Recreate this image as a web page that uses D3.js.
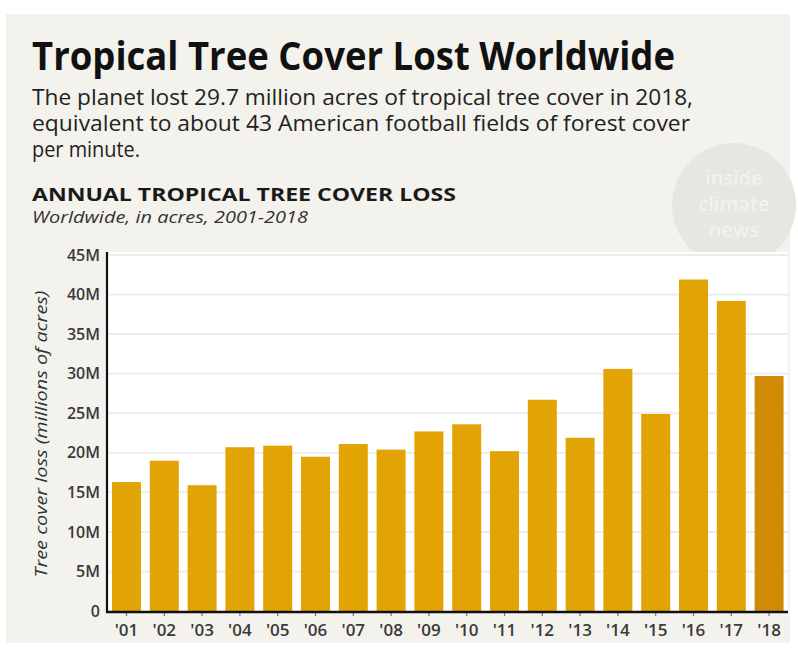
<!DOCTYPE html>
<html>
<head>
<meta charset="utf-8">
<script src="https://cdn.jsdelivr.net/npm/d3@7"></script>
<style>
  html, body { margin: 0; padding: 0; background: #ffffff; }
  svg { display: block; }
</style>
</head>
<body>
<svg id="chart" width="798" height="650"></svg>
<script>
const years = ["'01","'02","'03","'04","'05","'06","'07","'08","'09","'10","'11","'12","'13","'14","'15","'16","'17","'18"];
const lossMillionAcres = [16.3, 19.0, 15.9, 20.7, 20.9, 19.5, 21.1, 20.4, 22.7, 23.6, 20.2, 26.7, 21.9, 30.6, 24.9, 41.9, 39.2, 29.7];
const yTicks = [0, 5, 10, 15, 20, 25, 30, 35, 40, 45];
const yTickLabels = ["0", "5M", "10M", "15M", "20M", "25M", "30M", "35M", "40M", "45M"];

const svg = d3.select("#chart");
const FONT = "'Open Sans', 'Noto Sans', sans-serif";

// panel background
svg.append("rect").attr("x", 6).attr("y", 14).attr("width", 784).attr("height", 629).attr("fill", "#f4f2ec");

// watermark
const wm = svg.append("g");
wm.append("circle").attr("cx", 734).attr("cy", 205).attr("r", 62).attr("fill", "#e8e6e0");
[["inside", 185], ["climate", 211], ["news", 237]].forEach(([t, y]) => {
  wm.append("text").attr("x", 734).attr("y", y).attr("text-anchor", "middle")
    .attr("font-family", FONT).attr("font-size", 20).attr("font-weight", 600)
    .attr("fill", "#f2f1ed").text(t);
});

// titles
svg.append("text").attr("x", 32).attr("y", 70)
  .attr("font-family", FONT).attr("font-weight", 700).attr("font-size", 39)
  .attr("fill", "#111").attr("textLength", 643).attr("lengthAdjust", "spacingAndGlyphs")
  .text("Tropical Tree Cover Lost Worldwide");

const sub = [
  ["The planet lost 29.7 million acres of tropical tree cover in 2018,", 105, 661],
  ["equivalent to about 43 American football fields of forest cover", 131, 658],
  ["per minute.", 157, 108]
];
sub.forEach(([t, y, w]) => {
  svg.append("text").attr("x", 32).attr("y", y)
    .attr("font-family", FONT).attr("font-size", 21).attr("fill", "#222")
    .attr("textLength", w).attr("lengthAdjust", "spacingAndGlyphs").text(t);
});

svg.append("text").attr("x", 32).attr("y", 201)
  .attr("font-family", FONT).attr("font-weight", 700).attr("font-size", 18)
  .attr("fill", "#1a1a1a").attr("textLength", 424).attr("lengthAdjust", "spacingAndGlyphs")
  .text("ANNUAL TROPICAL TREE COVER LOSS");
svg.append("text").attr("x", 32).attr("y", 223)
  .attr("font-family", FONT).attr("font-style", "italic").attr("font-size", 15.5)
  .attr("fill", "#333").attr("textLength", 276).attr("lengthAdjust", "spacingAndGlyphs")
  .text("Worldwide, in acres, 2001-2018");

// scales
const x = d3.scaleBand().domain(years).range([108, 787.6]).paddingInner(0.233).paddingOuter(0.106);
const y = d3.scaleLinear().domain([0, 45]).range([611, 255]);

// plot background
svg.append("rect").attr("x", 108).attr("y", 252).attr("width", 680).attr("height", 359).attr("fill", "#ffffff");

// gridlines
svg.append("g").selectAll("line").data(yTicks.filter(d => d > 0)).join("line")
  .attr("x1", 109).attr("x2", 788)
  .attr("y1", d => y(d)).attr("y2", d => y(d))
  .attr("stroke", "#ececec").attr("stroke-width", 2);

// bars
svg.append("g").selectAll("rect").data(years).join("rect")
  .attr("x", d => x(d)).attr("width", x.bandwidth())
  .attr("y", (d, i) => y(lossMillionAcres[i]))
  .attr("height", (d, i) => y(0) - y(lossMillionAcres[i]))
  .attr("fill", (d, i) => i === years.length - 1 ? "#d18c06" : "#e2a404");

// y axis
const yAxis = d3.axisLeft(y).tickValues(yTicks).tickFormat((d, i) => yTickLabels[i]).tickSize(0).tickPadding(7);
const gy = svg.append("g").attr("transform", "translate(107,0)").call(yAxis);
gy.select(".domain").remove();
gy.selectAll("text").attr("font-family", FONT).attr("font-size", 16).attr("font-weight", 600).attr("fill", "#3a3a3a");
svg.append("line").attr("x1", 107).attr("x2", 107).attr("y1", 252).attr("y2", 613)
  .attr("stroke", "#111").attr("stroke-width", 2.2);

// x axis
const xAxis = d3.axisBottom(x).tickSize(4).tickPadding(8);
const gx = svg.append("g").attr("transform", "translate(0,612)").call(xAxis);
gx.select(".domain").remove();
gx.selectAll(".tick line").attr("stroke", "#777").attr("stroke-width", 1.2);
gx.selectAll("text").attr("font-family", FONT).attr("font-size", 17).attr("font-weight", 600).attr("fill", "#3a3a3a");
svg.append("line").attr("x1", 106).attr("x2", 788).attr("y1", 612).attr("y2", 612)
  .attr("stroke", "#111").attr("stroke-width", 2.5);

// y axis title
svg.append("text")
  .attr("transform", "translate(47,434) rotate(-90)")
  .attr("text-anchor", "middle")
  .attr("font-family", FONT).attr("font-style", "italic").attr("font-size", 17)
  .attr("fill", "#333").attr("textLength", 287).attr("lengthAdjust", "spacingAndGlyphs")
  .text("Tree cover loss (millions of acres)");
</script>
</body>
</html>
